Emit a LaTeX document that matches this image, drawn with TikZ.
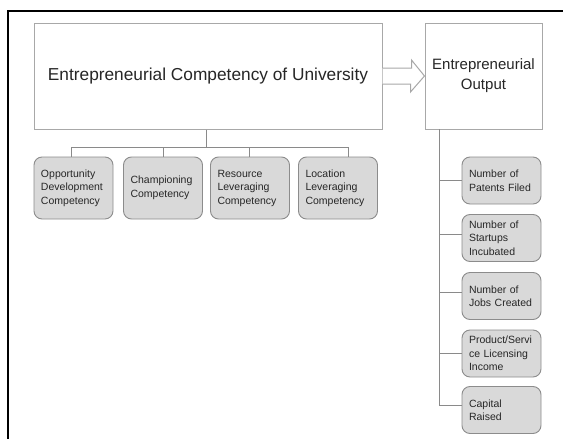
\documentclass[tikz,border=0pt]{standalone}
\usepackage{fontspec}
\setmainfont{Liberation Sans}
\definecolor{boxline}{HTML}{A8A8A8}
\definecolor{roundline}{HTML}{8C8C8C}
\definecolor{boxfill}{HTML}{D9D9D9}
\definecolor{connline}{HTML}{8A8A8A}
\definecolor{txt}{HTML}{262626}
\begin{document}
\begin{tikzpicture}[x=1pt,y=-1pt,
  bigbox/.style={draw=boxline, line width=1pt, fill=white, inner sep=0pt, text=txt, align=center},
  compbox/.style={draw=roundline, fill=boxfill, rounded corners=8pt, line width=0.9pt,
    minimum width=79pt, minimum height=62pt, text width=65pt, align=left,
    font=\fontsize{10.5}{13.5}\selectfont, text=txt, inner sep=0pt},
  outbox/.style={compbox, minimum height=47pt},
  conn/.style={draw=connline, line width=0.9pt},
  frameline/.style={draw=black, line width=1.5pt}]
\useasboundingbox (0,0) rectangle (563,439);
\draw[frameline] (8,439) -- (8,11) -- (563,11);

\node[bigbox, minimum width=348pt, minimum height=106pt,
  font=\fontsize{17.3}{21}\selectfont] (main) at (208,76)
  {Entrepreneurial Competency of University};
\node[bigbox, minimum width=117pt, minimum height=106pt,
  font=\fontsize{15}{20}\selectfont] (out) at (483.5,76)
  {Entrepreneurial\\Output};

% block arrow
\draw[draw=boxline, line width=1pt, fill=white, line join=miter]
  ([yshift=8pt]main.east) -- ++(29,0) -- ++(0,-8) -- (out.west)
  -- ++(-14,16) -- ++(0,-8) -- ([yshift=-8pt]main.east);

% competencies
\node[compbox] (c1) at (73.5,188) {Opportunity\\Development\\Competency};
\node[compbox] (c2) at (163,188) {Championing\\Competency};
\node[compbox] (c3) at (250,188) {Resource\\Leveraging\\Competency};
\node[compbox] (c4) at (338,188) {Location\\Leveraging\\Competency};

\coordinate (hub) at (206,147);
\draw[conn] (main.south -| hub) -- (hub);
\draw[conn] ([xshift=-2.5pt]c1.north) |- (hub);
\draw[conn] (c2.north) |- (hub);
\draw[conn] ([xshift=-1pt]c3.north) |- (hub);
\draw[conn] ([xshift=10pt]c4.north) |- (hub);

% outputs
\node[outbox] (r1) at (501.5,180.5) {Number of\\Patents Filed};
\node[outbox] (r2) at (501.5,238) {Number of\\Startups\\Incubated};
\node[outbox] (r3) at (501.5,296) {Number of\\Jobs Created};
\node[outbox] (r4) at (501.5,353.5) {Product/Servi\\ce Licensing\\Income};
\node[outbox] (r5) at (501.5,410) {Capital\\Raised};

\coordinate (spine) at (439,129);
\draw[conn] (spine) |- ([yshift=5pt]r5.west);
\draw[conn] (r1.west -| spine) -- (r1.west);
\draw[conn] ([yshift=4pt]r2.west -| spine) -- ([yshift=4pt]r2.west);
\draw[conn] ([yshift=4pt]r3.west -| spine) -- ([yshift=4pt]r3.west);
\draw[conn] (r4.west -| spine) -- (r4.west);
\end{tikzpicture}
\end{document}
